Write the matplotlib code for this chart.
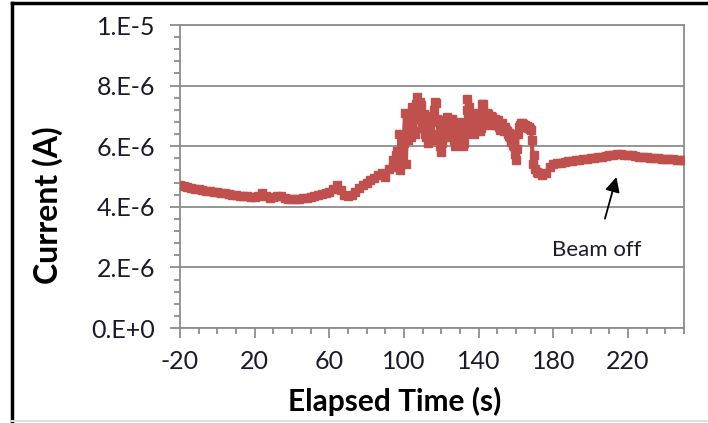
import numpy as np
import matplotlib
matplotlib.use("Agg")
import matplotlib.pyplot as plt
from matplotlib.lines import Line2D
from matplotlib.ticker import MultipleLocator, FixedLocator

plt.rcParams['font.family'] = ['Lato', 'DejaVu Sans']
plt.rcParams['axes.unicode_minus'] = False

# Elapsed time (s) and measured current (µA)
time_s = [
    -20, -18, -16, -14, -12, -10, -8, -6, -4, -2, 0, 2, 4, 6, 8, 10, 12, 14, 16, 18,
    20, 22, 24, 26, 28, 30, 32, 34, 36, 38, 40, 42, 44, 46, 48, 50, 52, 54, 56, 58,
    60, 62, 64, 66, 68, 70, 72, 74, 76, 78, 80, 82, 84, 86, 88, 90, 92, 94,
    95.0, 95.5, 96.0, 96.5, 97.0, 97.5, 98.0, 98.5, 99.0, 99.5,
    100.0, 100.5, 101.0, 101.5, 102.0, 102.5, 103.0, 103.5, 104.0, 104.5,
    105.0, 105.5, 106.0, 106.5, 107.0, 107.5, 108.0, 108.5, 109.0, 109.5,
    110.0, 110.5, 111.0, 111.5, 112.0, 112.5, 113.0, 113.5, 114.0, 114.5,
    115.0, 115.5, 116.0, 116.5, 117.0, 117.5, 118.0, 118.5, 119.0, 119.5,
    120.0, 120.5, 121.0, 121.5, 122.0, 122.5, 123.0, 123.5, 124.0, 124.5,
    125.0, 125.5, 126.0, 126.5, 127.0, 127.5, 128.0, 128.5, 129.0, 129.5,
    130.0, 130.5, 131.0, 131.5, 132.0, 132.5, 133.0, 133.5, 134.0, 134.5,
    135.0, 135.5, 136.0, 136.5, 137.0, 137.5, 138.0, 138.5, 139.0, 139.5,
    140.0, 140.5, 141.0, 141.5, 142.0, 142.5, 143.0, 143.5, 144.0, 144.5,
    145.0, 145.5, 146.0, 146.5, 147.0, 147.5, 148.0, 148.5, 149.0, 149.5,
    150.0, 150.5, 151.0, 151.5, 152.0, 152.5, 153.0, 153.5, 154.0, 154.5,
    155.0, 155.5, 156.0, 156.5, 157.0, 157.5, 158.0, 158.5, 159.0, 159.5,
    160.0, 160.5, 161.0, 161.5, 162.0, 162.5, 163.0, 163.5, 164.0, 164.5,
    165.0, 165.5, 166.0, 166.5, 167.0, 167.5, 168.0, 168.5, 169.0, 169.5,
    170, 171, 172, 174, 176, 178, 180, 182, 184, 186, 188, 190, 192, 194, 196,
    198, 200, 202, 204, 206, 208, 210, 212, 214, 216, 218, 220, 222, 224, 226, 228,
    230, 232, 234, 236, 238, 240, 242, 244, 246, 248, 250,
]
current_uA = [
    4.72, 4.68, 4.65, 4.62, 4.60, 4.58, 4.55, 4.53, 4.52, 4.50, 4.48, 4.46, 4.44, 4.42, 4.40, 4.38, 4.36, 4.35, 4.34, 4.33,
    4.32, 4.36, 4.44, 4.34, 4.30, 4.32, 4.36, 4.36, 4.30, 4.27, 4.26, 4.26, 4.27, 4.28, 4.30, 4.32, 4.35, 4.38, 4.42, 4.45,
    4.48, 4.58, 4.72, 4.55, 4.40, 4.36, 4.38, 4.50, 4.62, 4.72, 4.80, 4.88, 4.95, 5.05, 5.10, 5.00, 5.25, 5.55,
    5.55, 5.70, 5.85, 5.40, 5.30, 6.40, 5.20, 5.80, 5.60, 6.30,
    6.10, 7.10, 5.40, 6.60, 6.20, 6.90, 7.00, 6.30, 6.60, 7.30,
    7.20, 6.50, 6.40, 7.40, 7.62, 6.90, 7.00, 7.45, 7.35, 6.80,
    6.60, 7.05, 6.90, 6.40, 6.30, 6.80, 6.10, 6.50, 6.70, 6.20,
    6.40, 7.00, 7.20, 7.45, 7.42, 6.90, 6.80, 6.40, 6.20, 6.00,
    5.80, 6.10, 6.30, 6.50, 6.60, 6.85, 6.95, 6.60, 6.70, 6.30,
    6.40, 6.90, 6.80, 6.50, 6.20, 6.00, 6.05, 6.30, 6.40, 6.80,
    6.70, 6.30, 6.50, 6.00, 6.10, 6.40, 6.60, 7.20, 7.55, 7.10,
    7.30, 6.70, 6.60, 7.00, 6.90, 6.40, 6.50, 7.00, 6.80, 7.10,
    7.00, 6.50, 6.60, 7.00, 7.38, 7.40, 7.10, 6.70, 6.80, 7.10,
    7.05, 6.80, 6.85, 7.00, 6.95, 6.75, 6.70, 6.90, 6.85, 6.70,
    6.75, 6.85, 6.65, 6.55, 6.70, 6.75, 6.60, 6.50, 6.62, 6.55,
    6.50, 6.40, 6.45, 6.35, 6.30, 6.15, 6.25, 6.05, 6.00, 5.75,
    5.55, 5.90, 6.40, 6.65, 6.70, 6.78, 6.75, 6.70, 6.72, 6.68,
    6.70, 6.65, 6.68, 6.60, 6.65, 6.58, 6.55, 6.20, 5.40, 5.70,
    5.25, 5.15, 5.10, 5.05, 5.12, 5.30, 5.40, 5.44, 5.46, 5.48, 5.50, 5.52, 5.54, 5.55, 5.57,
    5.58, 5.60, 5.62, 5.63, 5.65, 5.68, 5.70, 5.72, 5.74, 5.73, 5.72, 5.71, 5.70, 5.68, 5.66, 5.65,
    5.64, 5.62, 5.61, 5.60, 5.59, 5.58, 5.57, 5.57, 5.56, 5.56, 5.55,
]

y_ticks = [0, 2e-6, 4e-6, 6e-6, 8e-6, 1e-5]
y_tick_labels = ["0.E+0", "2.E-6", "4.E-6", "6.E-6", "8.E-6", "1.E-5"]
x_ticks = [-20, 20, 60, 100, 140, 180, 220]

series_color = "#C0504D"
axis_gray = "#8C8C8C"
text_color = "#1a1a2a"

fig = plt.figure(figsize=(7.08, 4.23), dpi=100)
ax = fig.add_axes([180 / 708, 1 - 328 / 423, 504 / 708, 303 / 423])

current_A = np.array(current_uA) * 1e-6
ax.plot(time_s, current_A, color=series_color, lw=3, marker='s', ms=5.5,
        mec=series_color, mfc=series_color, zorder=3)

ax.set_xlim(-20, 250)
ax.set_ylim(0, 1e-5)

ax.xaxis.set_major_locator(FixedLocator(x_ticks))
ax.xaxis.set_minor_locator(MultipleLocator(10))
ax.set_yticks(y_ticks)
ax.set_yticklabels(y_tick_labels)
ax.yaxis.set_minor_locator(MultipleLocator(0.4e-6))

ax.grid(axis='y', which='major', color=axis_gray, lw=1.3, zorder=0)
for side in ['left', 'bottom', 'right', 'top']:
    ax.spines[side].set_color(axis_gray)
    ax.spines[side].set_linewidth(1.3)

ax.tick_params(axis='both', which='major', direction='out', length=7, width=1.3,
               color=axis_gray, labelsize=18, labelcolor=text_color)
ax.tick_params(axis='both', which='minor', direction='out', length=4.5, width=1.3,
               color=axis_gray)
ax.tick_params(axis='y', which='major', pad=11)
ax.tick_params(axis='x', which='major', pad=9)

ax.set_xlabel("Elapsed Time (s)", fontsize=21.5, fontweight='bold', color='black',
              va='center')
ax.set_ylabel("Current (A)", fontsize=23, fontweight='bold', color='black',
              va='center')
ax.xaxis.set_label_coords((395 - 180) / 504, -(401 - 328) / 303)
ax.yaxis.set_label_coords(-(180 - 48) / 504, (328 - 205) / 303)

ax.annotate("Beam off", xy=(213.8, 4.98e-6), xytext=(203, 2.57e-6),
            ha='center', va='center', fontsize=16, color=text_color,
            arrowprops=dict(arrowstyle='-|>', color='black', lw=1.3,
                            mutation_scale=22, shrinkA=14, shrinkB=0))

# Outer frame: dark top/left edges and faint bottom edge
W, H = 708, 423
fig.add_artist(Line2D([12 / W, 1.0], [1 - 3 / H, 1 - 3 / H], color='black', lw=2.5,
                      transform=fig.transFigure))
fig.add_artist(Line2D([12 / W, 12 / W], [1 - 3 / H, 1 - 421 / H], color='black', lw=2.5,
                      transform=fig.transFigure))
fig.add_artist(Line2D([12 / W, 1.0], [1 - 421 / H, 1 - 421 / H], color='#DDDDDD', lw=1.5,
                      transform=fig.transFigure))

fig.savefig("out.png", dpi=100)
